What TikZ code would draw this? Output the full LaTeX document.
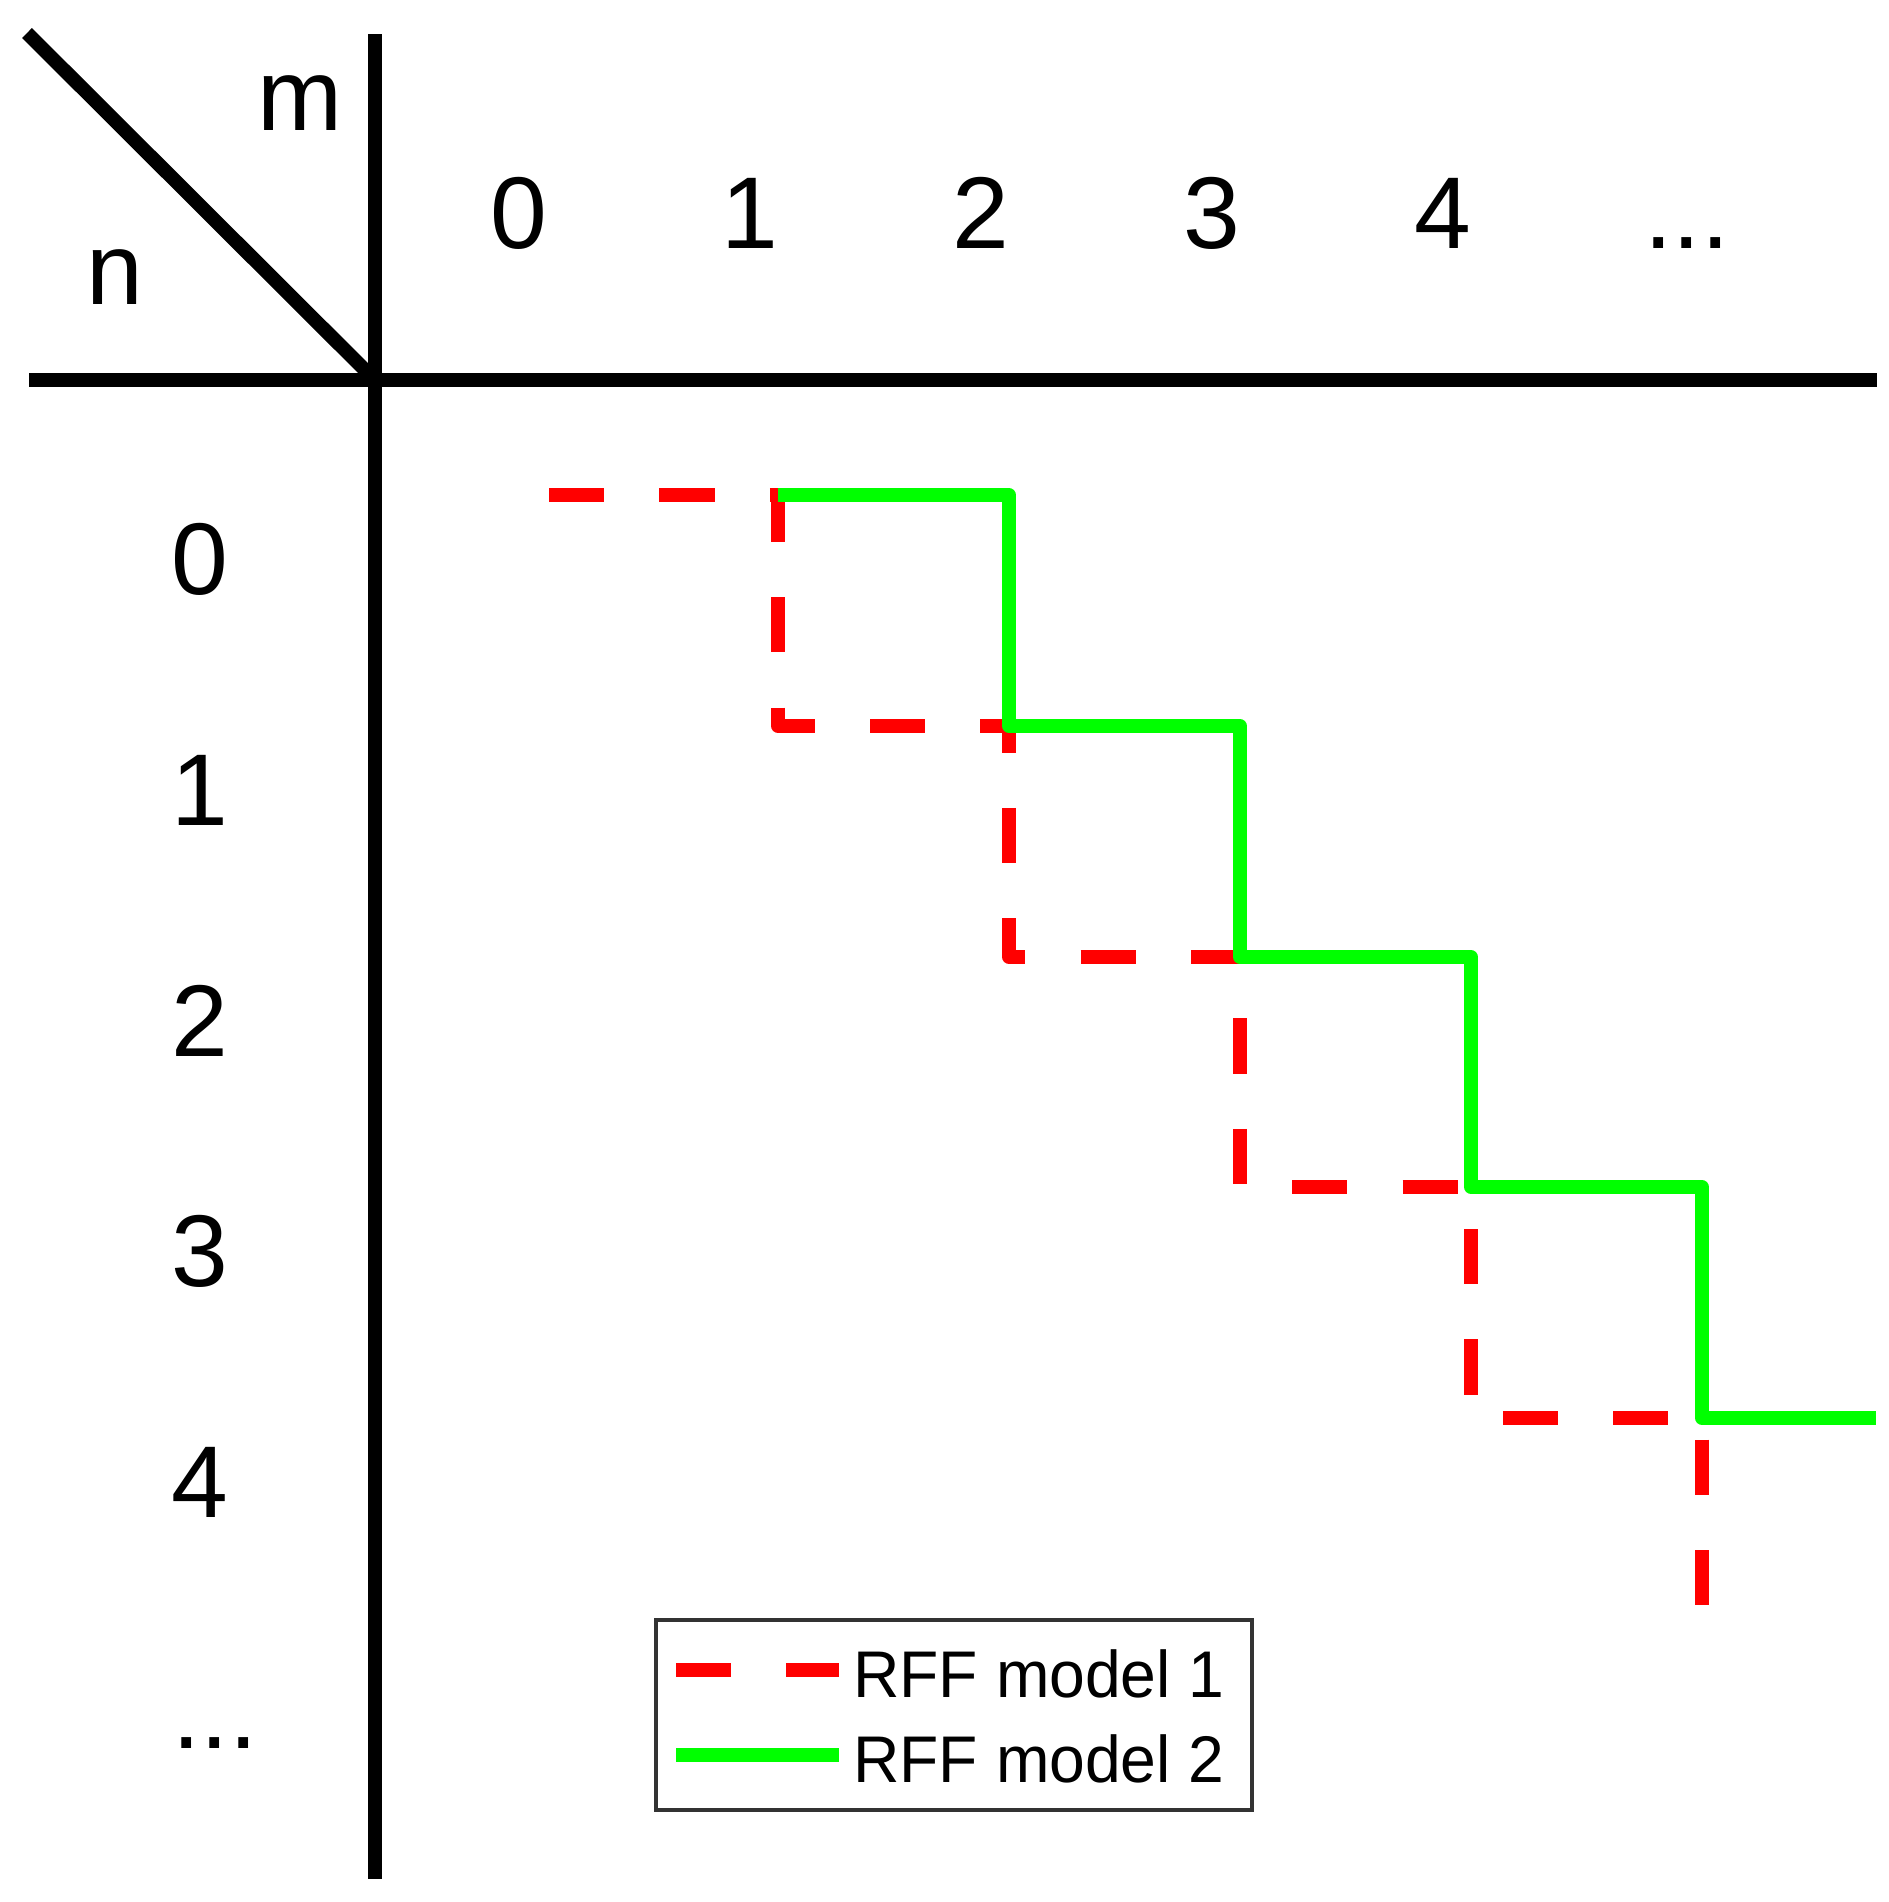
\documentclass[tikz,border=0pt]{standalone}
\usepackage{fontspec}
\setmainfont{Liberation Sans}
\begin{document}
\begin{tikzpicture}[x=0.5pt,y=-0.5pt,
  axis/.style={line width=7pt,black},
  lbl/.style={inner sep=0pt,anchor=base,font=\fontsize{51pt}{60pt}\selectfont},
  leglbl/.style={inner sep=0pt,anchor=base west,xscale=0.973,font=\fontsize{33pt}{40pt}\selectfont},
  model1/.style={line width=6.8pt,red,line join=round,dash pattern=on 27.6pt off 27.6pt},
  model2/.style={line width=6.8pt,green,line join=round},
  legbox/.style={draw=black!80,line width=1.8pt}]
\useasboundingbox (0,0) rectangle (1889,1902);
\definecolor{green}{RGB}{0,255,0}
\definecolor{red}{RGB}{255,0,0}
% axes
\coordinate (origin) at (375,380);
\coordinate (vtop) at (375,34);
\coordinate (vbot) at (375,1879);
\coordinate (hleft) at (29,380);
\coordinate (hright) at (1877,380);
\coordinate (diag) at (27,33);
\coordinate (diagend) at (372,377);
\draw[axis] (vtop) -- (vbot);
\draw[axis] (hleft) -- (hright);
\draw[line width=7pt] (diag) -- (diagend);
% corner labels
\node[lbl] (mlab) at (300,130) {m};
\node[lbl] (nlab) at (115,304) {n};
% column labels
\node[lbl] (c0) at (519,248) {0};
\node[lbl] (c1) at (750,248) {1};
\node[lbl] (c2) at (981,248) {2};
\node[lbl] (c3) at (1212,248) {3};
\node[lbl] (c4) at (1443,248) {4};
\node[lbl] (c5) at (1687,248) {...};
% row labels
\node[lbl] (r0) at (200,594) {0};
\node[lbl] (r1) at (200,825) {1};
\node[lbl] (r2) at (200,1056) {2};
\node[lbl] (r3) at (200,1286) {3};
\node[lbl] (r4) at (200,1517) {4};
\node[lbl] (r5) at (215,1748) {...};
% staircases
\draw[model1] (549,495) -- (778,495) -- (778,726) -- (1009,726) -- (1009,957)
  -- (1240,957) -- (1240,1187) -- (1471,1187) -- (1471,1418) -- (1702,1418) -- (1702,1607);
\draw[model2] (778,495) -- (1009,495) -- (1009,726) -- (1240,726) -- (1240,957)
  -- (1471,957) -- (1471,1187) -- (1702,1187) -- (1702,1418) -- (1876,1418);
% legend
\node[legbox,inner sep=0pt,minimum width=298pt,minimum height=95pt,anchor=north west] (legend) at (654,1618) {};
\coordinate (l1a) at (676,1670);
\coordinate (l1b) at (839,1670);
\coordinate (l2a) at (676,1755);
\coordinate (l2b) at (839,1755);
\draw[model1] (l1a) -- (l1b);
\draw[model2] (l2a) -- (l2b);
\node[leglbl] (t1) at (853,1697) {RFF model 1};
\node[leglbl] (t2) at (853,1782) {RFF model 2};
\end{tikzpicture}
\end{document}
